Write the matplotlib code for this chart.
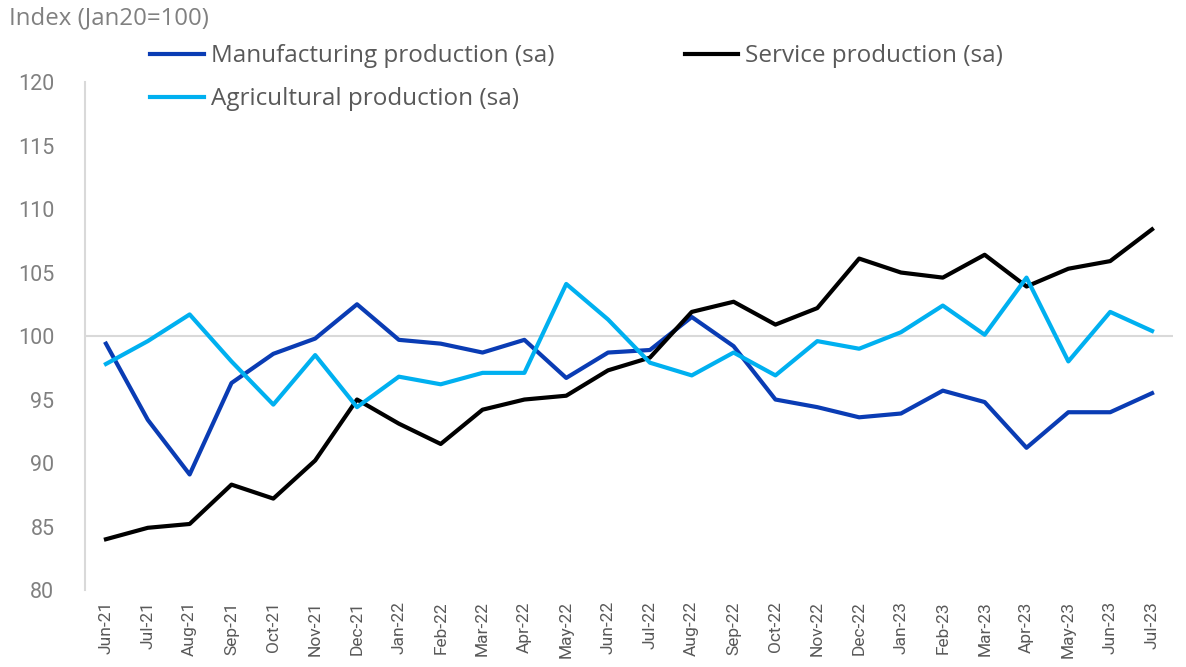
import matplotlib.pyplot as plt
import numpy as np

plt.rcParams['font.family'] = ['Roboto', 'DejaVu Sans']

months = ["Jun-21", "Jul-21", "Aug-21", "Sep-21", "Oct-21", "Nov-21", "Dec-21",
          "Jan-22", "Feb-22", "Mar-22", "Apr-22", "May-22", "Jun-22", "Jul-22",
          "Aug-22", "Sep-22", "Oct-22", "Nov-22", "Dec-22",
          "Jan-23", "Feb-23", "Mar-23", "Apr-23", "May-23", "Jun-23", "Jul-23"]

manufacturing = [99.4, 93.4, 89.1, 96.3, 98.6, 99.8, 102.5,
                 99.7, 99.4, 98.7, 99.7, 96.7, 98.7, 98.9,
                 101.5, 99.2, 95.0, 94.4, 93.6,
                 93.9, 95.7, 94.8, 91.2, 94.0, 94.0, 95.5]

service = [84.0, 84.9, 85.2, 88.3, 87.2, 90.2, 95.0,
           93.1, 91.5, 94.2, 95.0, 95.3, 97.3, 98.3,
           101.9, 102.7, 100.9, 102.2, 106.1,
           105.0, 104.6, 106.4, 103.9, 105.3, 105.9, 108.4]

agricultural = [97.8, 99.6, 101.7, 98.0, 94.6, 98.5, 94.4,
                96.8, 96.2, 97.1, 97.1, 104.1, 101.3, 97.9,
                96.9, 98.7, 96.9, 99.6, 99.0,
                100.3, 102.4, 100.1, 104.6, 98.0, 101.9, 100.4]

yticks = [80, 85, 90, 95, 100, 105, 110, 115, 120]

fig = plt.figure(figsize=(11.86, 6.67), dpi=100)
ax = fig.add_axes([0.0717, 0.1154, 0.9173, 0.7616])

x = np.arange(len(months))
ax.axhline(100, color='#d9d9d9', lw=1.5, zorder=1)
l1, = ax.plot(x, manufacturing, color='#0a3cb4', lw=3, label='Manufacturing production (sa)', zorder=3)
l2, = ax.plot(x, service, color='black', lw=3, label='Service production (sa)', zorder=3)
l3, = ax.plot(x, agricultural, color='#00b0f0', lw=3, label='Agricultural production (sa)', zorder=4)

ax.set_xlim(-0.5, len(months) - 0.5)
ax.set_ylim(80, 120)
ax.set_yticks(yticks)
ax.set_xticks(x)
ax.set_xticklabels(months, rotation=90, fontsize=12.5, color='#595959')
ax.tick_params(axis='y', labelsize=15.5, colors='#808080', length=0, pad=22)
ax.tick_params(axis='x', length=0, pad=8)

for s in ['top', 'right', 'bottom']:
    ax.spines[s].set_visible(False)
ax.spines['left'].set_color('#d9d9d9')
ax.spines['left'].set_linewidth(1.5)

fig.text(0.008, 0.973, 'Index (Jan20=100)', fontsize=17.3, color='#808080',
         va='center', ha='left', family='Open Sans')

leg = fig.legend(handles=[l1, l3, l2], loc='upper left', bbox_to_anchor=(0.1185, 0.9485),
                 ncol=2, frameon=False, prop={'family': 'Open Sans', 'size': 17.5},
                 labelcolor='#595959',
                 handlelength=2.2, handletextpad=0.3, columnspacing=5.35,
                 labelspacing=0.78, borderaxespad=0)

fig.savefig('out.png', dpi=100)
